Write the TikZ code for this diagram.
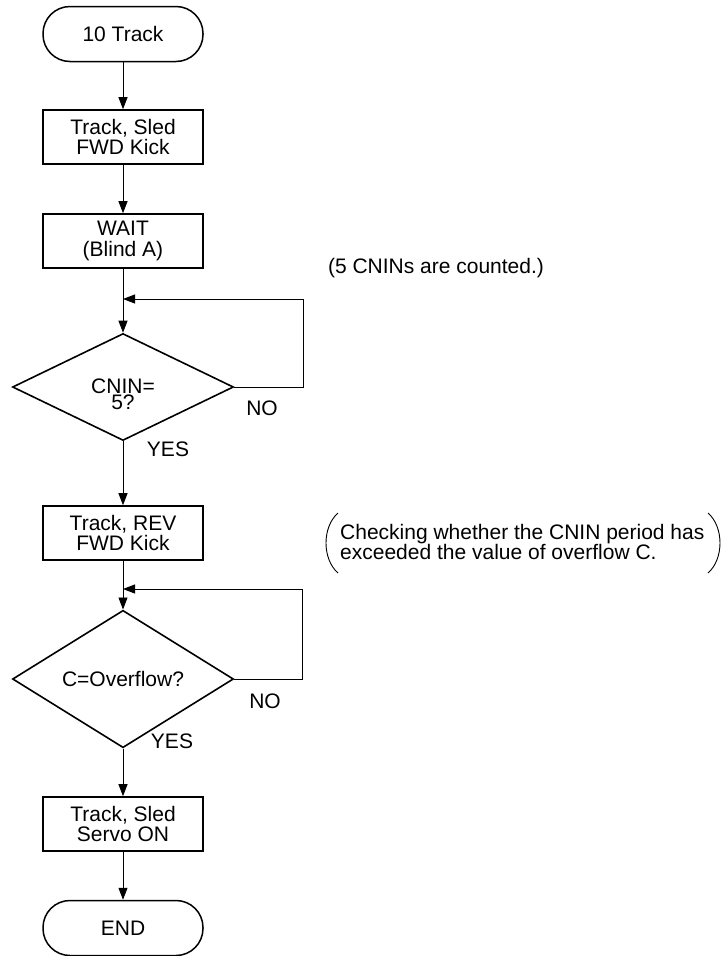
\documentclass[tikz,border=0pt]{standalone}
\usepackage{fontspec}
\setmainfont{Liberation Sans}
\usetikzlibrary{shapes.geometric,arrows.meta}
\begin{document}
\begin{tikzpicture}[x=1pt,y=-1pt,
  every node/.style={font=\fontsize{21}{20.5}\selectfont},
  term/.style={draw,line width=1.5pt,rounded corners=27pt,minimum width=160pt,minimum height=55pt,inner sep=0pt},
  procbox/.style={draw,line width=1.6pt,minimum width=160pt,minimum height=54pt,inner sep=0pt,align=center},
  decide/.style={draw,diamond,line width=1.6pt,minimum width=221pt,minimum height=107pt,inner sep=0pt,align=center},
  arr/.style={line width=0.9pt,-{Triangle[length=12pt,width=9pt]}},
  conn/.style={line width=0.9pt},
  lbl/.style={inner sep=0pt}]
\useasboundingbox (0,0) rectangle (727,956);
\node[term] (start) at (123,34) {10 Track};
\node[procbox] (b1) at (123,137) {Track, Sled\\FWD Kick};
\node[procbox] (b2) at (123,241) {WAIT\\(Blind A)};
\coordinate (j1) at (123,299);
\node[decide] (d1) at (123,387) {};
\node[lbl,align=center,font=\fontsize{21}{14}\selectfont] (d1t) at (123,394) {CNIN=\\5?};
\node[procbox] (b3) at (123,533) {Track, REV\\FWD Kick};
\coordinate (j2) at (123,589);
\node[decide] (d2) at (123,679) {C=Overflow?};
\node[procbox] (b4) at (123,824) {Track, Sled\\Servo ON};
\node[term] (end) at (123,928) {END};

\node[lbl] (no1) at (262,408) {NO};
\node[lbl] (yes1) at (168,449) {YES};
\node[lbl] (no2) at (265,701) {NO};
\node[lbl] (yes2) at (172,741) {YES};

\node[lbl] (c1) at (436,268) {(5 CNINs are counted.)};
\node[lbl,anchor=west,align=left] (c2) at (340,542) {Checking whether the CNIN period has\\exceeded the value of overflow C.};
\draw[conn] (338,513) .. controls (322,527) and (322,559) .. (338,573);
\draw[conn] (708,513) .. controls (724,527) and (724,559) .. (708,573);

\draw[arr] (start) -- (b1);
\draw[arr] (b1) -- (b2);
\draw[arr] (b2) -- (d1);
\draw[arr] (d1.east) -- (303,387) |- (j1);
\draw[arr] (d1) -- (b3);
\draw[arr] (b3) -- (d2);
\draw[arr] (d2.east) -- (302,679) |- (j2);
\draw[arr] (d2) -- (b4);
\draw[arr] (b4) -- (end);
\end{tikzpicture}
\end{document}
